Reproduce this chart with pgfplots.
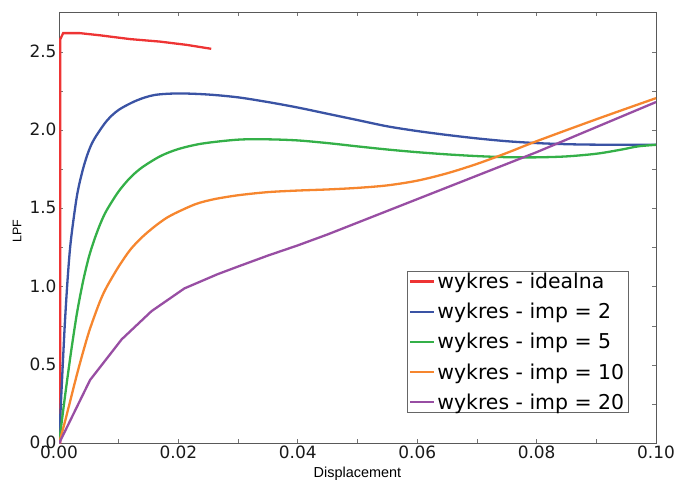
\documentclass[border=0pt]{standalone}
\usepackage{fontspec}
\setmainfont{DejaVu Sans}
\newfontfamily\labfont{Liberation Sans}
\usepackage{pgfplots}
\pgfplotsset{compat=1.18}
\definecolor{cred}{RGB}{238,52,52}
\definecolor{cblue}{RGB}{58,83,164}
\definecolor{cgreen}{RGB}{52,176,72}
\definecolor{corange}{RGB}{246,134,46}
\definecolor{cpurple}{RGB}{152,78,163}
\begin{document}
\begin{tikzpicture}[x=1bp,y=1bp]
\begin{axis}[
  at={(0,0)}, anchor=south west,
  scale only axis,
  width=597bp, height=431.5bp,
  xmin=0, xmax=0.1, ymin=0, ymax=2.755,
  xtick={0,0.02,0.04,0.06,0.08,0.1},
  minor xtick={0.01,0.03,0.05,0.07,0.09},
  ytick={0,0.5,1,1.5,2,2.5},
  minor ytick={0.25,0.75,1.25,1.75,2.25,2.75},
  tick align=inside,
  major tick length=4bp, minor tick length=4bp,
  every tick/.style={color=black!55, line width=0.8bp},
  axis line style={color=black!65, line width=0.9bp},
  scaled x ticks=false,
  xticklabel style={/pgf/number format/fixed,/pgf/number format/fixed zerofill,/pgf/number format/precision=2, yshift=1bp},
  yticklabel style={/pgf/number format/fixed,/pgf/number format/fixed zerofill,/pgf/number format/precision=1, xshift=1bp, yshift=1bp},
  /pgf/number format/assume math mode=true,
  ticklabel style={font=\fontsize{17}{20}\selectfont, text=black!90},
  xlabel={\labfont\fontsize{14.5}{16}\selectfont Displacement},
  ylabel={\labfont\fontsize{12.5}{14}\selectfont LPF},
  xlabel style={at={(axis description cs:0.5,-0.069)}, anchor=center},
  ylabel style={at={(axis description cs:-0.070,0.4925)}, anchor=center},
  legend style={at={(axis cs:0.0954,0.194)}, anchor=south east,
    draw=black!60, line width=0.8bp, font=\fontsize{20.5}{24}\selectfont,
    row sep=9.2bp, inner xsep=2bp, inner ysep=0bp},
  legend cell align=left,
  legend image code/.code={\draw[#1, line width=2.2bp] (0bp,0bp) -- (24bp,0bp);},
  every axis plot/.append style={line width=2.3bp},
]
\addplot[cred] coordinates {
(0.0002,0) (0.0002,2.58) (0.0007,2.62) (0.0035,2.62)
(0.0069,2.606) (0.0119,2.582) (0.0169,2.566) (0.0214,2.545) (0.0255,2.52)};
\addlegendentry{wykres - idealna}
\addplot[cblue, smooth] coordinates {
(0,0) (0.0005,0.40) (0.001,0.78) (0.0015,1.08) (0.002,1.30) (0.003,1.58)
(0.004,1.75) (0.005,1.87) (0.006,1.95) (0.008,2.06) (0.010,2.13) (0.013,2.19)
(0.016,2.225) (0.020,2.235) (0.025,2.228) (0.030,2.21) (0.035,2.18) (0.040,2.145)
(0.045,2.105) (0.050,2.065) (0.055,2.025) (0.060,1.995) (0.065,1.97) (0.070,1.948)
(0.075,1.93) (0.080,1.918) (0.085,1.911) (0.090,1.908) (0.1,1.907)};
\addlegendentry{wykres - imp = 2}
\addplot[cgreen, smooth] coordinates {
(0,0) (0.001,0.30) (0.002,0.58) (0.003,0.83) (0.004,1.03) (0.005,1.19)
(0.006,1.31) (0.007,1.41) (0.008,1.49) (0.010,1.61) (0.012,1.70) (0.014,1.765)
(0.017,1.835) (0.020,1.88) (0.024,1.915) (0.030,1.94) (0.035,1.942) (0.040,1.935)
(0.045,1.918) (0.050,1.897) (0.055,1.877) (0.060,1.86) (0.065,1.846) (0.070,1.835)
(0.075,1.828) (0.080,1.827) (0.085,1.833) (0.090,1.85) (0.094,1.875) (0.097,1.897)
(0.1,1.907)};
\addlegendentry{wykres - imp = 5}
\addplot[corange, smooth] coordinates {
(0,0) (0.001,0.14) (0.002,0.29) (0.003,0.44) (0.004,0.58) (0.005,0.71)
(0.006,0.82) (0.007,0.92) (0.008,1.00) (0.010,1.13) (0.012,1.24) (0.014,1.32)
(0.016,1.385) (0.018,1.44) (0.020,1.48) (0.023,1.53) (0.026,1.56) (0.030,1.585)
(0.035,1.605) (0.040,1.615) (0.045,1.622) (0.050,1.632) (0.055,1.648) (0.060,1.678)
(0.065,1.725) (0.070,1.785) (0.075,1.855) (0.080,1.93) (0.090,2.07) (0.100,2.205)};
\addlegendentry{wykres - imp = 10}
\addplot[cpurple] coordinates {
(0,0) (0.0052,0.405) (0.0105,0.665) (0.0155,0.845) (0.021,0.99) (0.0265,1.08)
(0.030,1.13) (0.035,1.20) (0.040,1.265) (0.045,1.335) (0.050,1.41) (0.055,1.485)
(0.060,1.56) (0.065,1.635) (0.070,1.71) (0.075,1.785) (0.080,1.86) (0.090,2.02)
(0.100,2.18)};
\addlegendentry{wykres - imp = 20}
\end{axis}
\pgfresetboundingbox
\path[use as bounding box] (-59bp,-37.5bp) rectangle (619bp,443.5bp);
\end{tikzpicture}
\end{document}
